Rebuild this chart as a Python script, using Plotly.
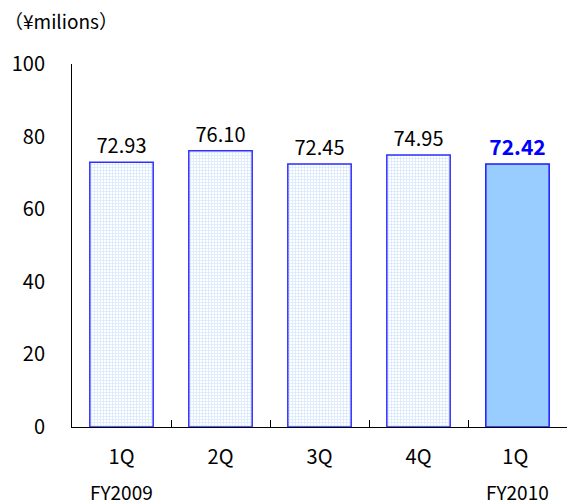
import plotly.graph_objects as go

categories = ["1Q", "2Q", "3Q", "4Q", "1Q "]
values = [72.93, 76.10, 72.45, 74.95, 72.42]
value_labels = ["72.93", "76.10", "72.45", "74.95", "72.42"]
year_labels = ["FY2009", "FY2010"]
year_positions = [0, 4]
y_ticks = [0, 20, 40, 60, 80, 100]

font_family = "Noto Sans CJK JP, DejaVu Sans, sans-serif"

fig = go.Figure()
# pattern bars (first four)
fig.add_trace(go.Bar(
    x=categories[:4], y=values[:4], width=0.64,
    marker=dict(color="white", line=dict(color="#2e2eff", width=1.5),
                pattern=dict(shape="+", fgcolor="#b8d6fb", bgcolor="white", size=3, solidity=0.5)),
    text=value_labels[:4], textposition="outside", cliponaxis=False,
    textfont=dict(family=font_family, size=20, color="black"),
    showlegend=False, hoverinfo="skip",
))
fig.add_trace(go.Bar(
    x=categories[4:], y=values[4:], width=0.64,
    marker=dict(color="#99ccff", line=dict(color="#1a1aff", width=1.5)),
    text=value_labels[4:], textposition="outside", cliponaxis=False,
    textfont=dict(family=font_family, size=21, color="#0000ff", weight="bold"),
    showlegend=False, hoverinfo="skip",
))

for lab, pos in zip(year_labels, year_positions):
    fig.add_annotation(x=categories[pos], y=-0.178, xref="x", yref="paper",
                       text=lab, showarrow=False, yanchor="middle",
                       font=dict(family=font_family, size=19, color="black"))

fig.add_annotation(x=-0.142, y=1.12, xref="paper", yref="paper", text="（¥milions）",
                   showarrow=False, xanchor="left", yanchor="middle",
                   font=dict(family=font_family, size=19, color="black"))

fig.update_layout(
    width=568, height=504,
    margin=dict(l=72, r=1, t=64, b=77),
    plot_bgcolor="white", paper_bgcolor="white",
    bargap=0.36,
    font=dict(family=font_family, size=20, color="black"),
    xaxis=dict(type="category", categoryorder="array", categoryarray=categories,
               showline=True, linecolor="black", linewidth=1,
               ticks="inside", tickson="boundaries", ticklen=7, tickcolor="black",
               tickfont=dict(size=20), ticklabelstandoff=12,
               range=[-0.5, 4.5], showgrid=False),
    yaxis=dict(range=[0, 100], tickvals=y_ticks, showline=True, linecolor="black",
               linewidth=1, ticks="", showgrid=False, zeroline=False,
               tickfont=dict(size=20), ticklabelstandoff=22),
)

fig.write_html("out.html")
